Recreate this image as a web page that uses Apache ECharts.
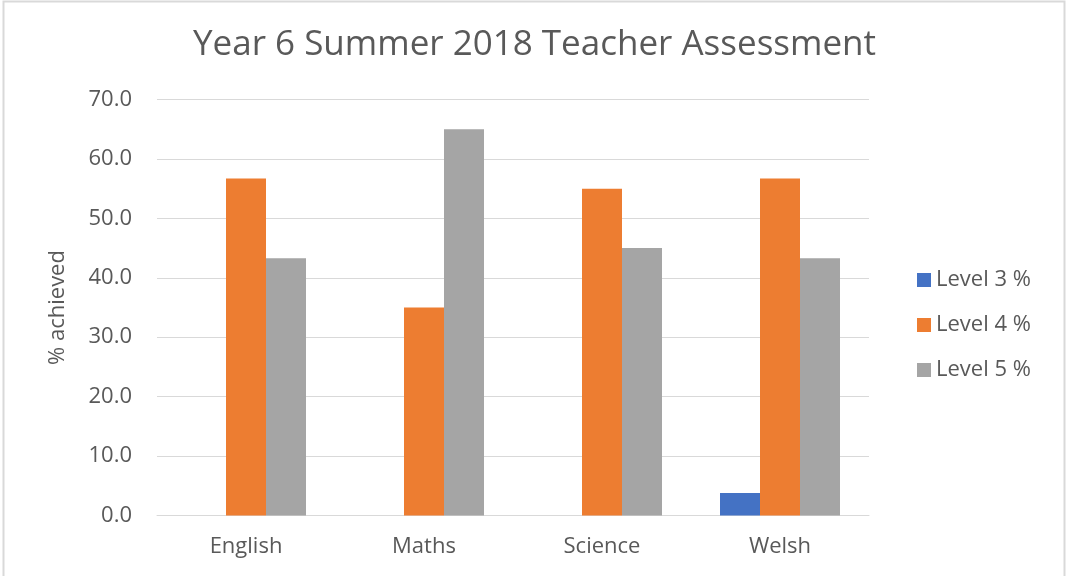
<!DOCTYPE html>
<html>
<head>
<meta charset="utf-8">
<script src="https://cdn.jsdelivr.net/npm/echarts@6/dist/echarts.min.js"></script>
<style>
  html, body { margin: 0; padding: 0; background: #fff; }
  #chart { width: 1069px; height: 576px; }
</style>
</head>
<body>
<div id="chart"></div>
<script>
// data
const subjects = ['English', 'Maths', 'Science', 'Welsh'];
const level3 = [0, 0, 0, 3.8];
const level4 = [56.7, 35.0, 55.0, 56.7];
const level5 = [43.3, 65.0, 45.0, 43.3];
const seriesNames = ['Level 3 %', 'Level 4 %', 'Level 5 %'];
const colours = ['#4472c4', '#ed7d31', '#a5a5a5'];

const font = '"Open Sans", sans-serif';
const grey = '#595959';

var chart = echarts.init(document.getElementById('chart'));

function bar(name, values, i) {
  return {
    name: name,
    type: 'bar',
    data: values,
    barWidth: 40,
    barGap: '0%',
    itemStyle: { color: colours[i] }
  };
}

chart.setOption({
  animation: false,
  title: {
    text: 'Year 6 Summer 2018 Teacher Assessment',
    left: 'center',
    top: 23,
    textStyle: { fontFamily: font, fontSize: 35, fontWeight: 'normal', color: grey }
  },
  graphic: [{
    type: 'rect',
    shape: { x: 3.5, y: 1.5, width: 1061, height: 580 },
    style: { fill: 'none', stroke: '#d9d9d9', lineWidth: 2 }
  }],
  legend: {
    orient: 'vertical',
    left: 912,
    top: 261,
    itemWidth: 14,
    itemHeight: 14,
    itemGap: 17,
    icon: 'rect',
    textStyle: { fontFamily: font, fontSize: 22, color: grey, lineHeight: 28 },
    data: seriesNames
  },
  grid: { left: 157, right: 200, top: 99.5, bottom: 60.5 },
  xAxis: {
    type: 'category',
    data: subjects,
    axisLine: { lineStyle: { color: '#d9d9d9' } },
    axisTick: { show: false },
    axisLabel: { fontFamily: font, fontSize: 22, color: grey, margin: 20 }
  },
  yAxis: {
    type: 'value',
    min: 0,
    max: 70,
    interval: 10,
    name: '% achieved',
    nameLocation: 'middle',
    nameGap: 88,
    nameTextStyle: { fontFamily: font, fontSize: 22, color: grey },
    axisLine: { show: false },
    axisTick: { show: false },
    splitLine: { lineStyle: { color: '#d9d9d9' } },
    axisLabel: {
      fontFamily: font, fontSize: 22, color: grey, margin: 25,
      formatter: v => v.toFixed(1)
    }
  },
  series: [
    bar(seriesNames[0], level3, 0),
    bar(seriesNames[1], level4, 1),
    bar(seriesNames[2], level5, 2)
  ]
});
</script>
</body>
</html>
